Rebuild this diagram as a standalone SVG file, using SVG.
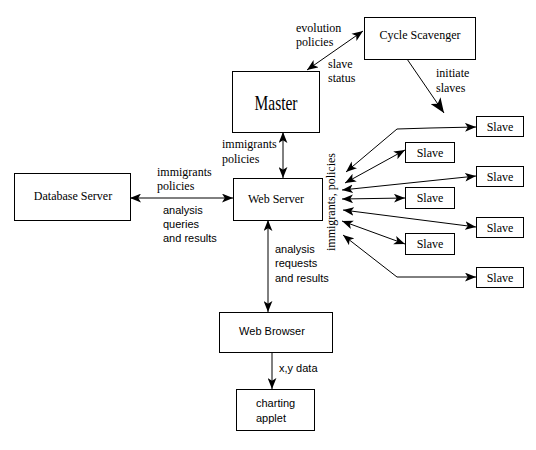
<svg xmlns="http://www.w3.org/2000/svg" width="536" height="450" viewBox="0 0 536 450">
<style>
.box{fill:#fff;stroke:#000;stroke-width:1}
.ln{fill:none;stroke:#000;stroke-width:1}
.bi{marker-start:url(#ah);marker-end:url(#ah)}
.one{marker-end:url(#ah)}
.s{font-family:"Liberation Serif","Times New Roman",serif;font-size:12px;fill:#000}
.ss{font-family:"Liberation Sans",Arial,sans-serif;font-size:11px;fill:#000}
</style>
<defs>
<marker id="ah" viewBox="0 0 10 8" refX="10" refY="4" markerWidth="11" markerHeight="9" markerUnits="userSpaceOnUse" orient="auto-start-reverse">
<path d="M0,0 L10,4 L0,8 L2.5,4 z" fill="#000"/>
</marker>
<marker id="ahl" viewBox="0 0 10 8" refX="10" refY="4" markerWidth="15" markerHeight="12" markerUnits="userSpaceOnUse" orient="auto">
<path d="M0,0 L10,4 L0,8 L2.5,4 z" fill="#000"/>
</marker>
</defs>
<rect width="536" height="450" fill="#fff"/>
<g id="connectors">
<line class="ln bi" x1="307" y1="70" x2="363" y2="31"/>
<line class="ln" x1="407" y1="59" x2="444" y2="113" marker-end="url(#ahl)"/>
<line class="ln bi" x1="283" y1="132" x2="283" y2="178"/>
<line class="ln bi" x1="130" y1="198" x2="233" y2="198"/>
<line class="ln bi" x1="268" y1="220" x2="268" y2="312"/>
<line class="ln one" x1="272" y1="352" x2="272" y2="389"/>
<polyline class="ln bi" points="346,172 397,129 430,128 476,127"/>
<line class="ln bi" x1="345" y1="183" x2="405" y2="150"/>
<line class="ln bi" x1="342" y1="190" x2="476" y2="176"/>
<line class="ln bi" x1="342" y1="199" x2="405" y2="198"/>
<line class="ln bi" x1="343" y1="210" x2="476" y2="227"/>
<line class="ln bi" x1="342" y1="221" x2="405" y2="244"/>
<polyline class="ln bi" points="343,235 397,277 476,277"/>
<text class="s" x="296" y="32">evolution</text>
<text class="s" x="296" y="46">policies</text>
<text class="s" x="328" y="68">slave</text>
<text class="s" x="328" y="82">status</text>
<text class="s" x="436" y="77">initiate</text>
<text class="s" x="436" y="92">slaves</text>
<text class="s" x="222" y="148">immigrants</text>
<text class="s" x="222" y="163">policies</text>
<text class="s" x="157" y="176">immigrants</text>
<text class="s" x="157" y="190">policies</text>
<text class="ss" x="163" y="214">analysis</text>
<text class="ss" x="163" y="228">queries</text>
<text class="ss" x="163" y="242">and results</text>
<text class="ss" x="275" y="253">analysis</text>
<text class="ss" x="275" y="267">requests</text>
<text class="ss" x="275" y="282">and results</text>
<text class="ss" x="279" y="372">x,y data</text>
<text class="s" transform="translate(335,202) rotate(-90)" text-anchor="middle">immigrants, policies</text>
</g>
<g id="cycle-scavenger">
<rect class="box" x="364.5" y="17.5" width="111" height="42"/>
<text class="s" x="420" y="39" text-anchor="middle">Cycle Scavenger</text>
</g>
<g id="master">
<rect class="box" x="232.5" y="71.5" width="87" height="61"/>
<text x="276" y="110" text-anchor="middle" font-family="Liberation Serif, Times New Roman, serif" font-size="22" textLength="43" lengthAdjust="spacingAndGlyphs">Master</text>
</g>
<g id="database-server">
<rect class="box" x="14.5" y="173.5" width="116" height="47"/>
<text class="s" x="73" y="200" text-anchor="middle">Database Server</text>
</g>
<g id="web-server">
<rect class="box" x="233.5" y="178.5" width="89" height="42"/>
<text class="s" x="276" y="203" text-anchor="middle">Web Server</text>
</g>
<g id="web-browser">
<rect class="box" x="219.5" y="312.5" width="113" height="40"/>
<text class="ss" x="272" y="335" text-anchor="middle">Web Browser</text>
</g>
<g id="charting-applet">
<rect class="box" x="236.5" y="389.5" width="78" height="41"/>
<text class="ss" x="256" y="407">charting</text>
<text class="ss" x="256" y="422">applet</text>
</g>
<g id="slave-1"><rect class="box" x="476.5" y="116.5" width="47" height="20"/><text class="s" x="500" y="131" text-anchor="middle">Slave</text></g>
<g id="slave-2"><rect class="box" x="405.5" y="142.5" width="49" height="20"/><text class="s" x="430" y="157" text-anchor="middle">Slave</text></g>
<g id="slave-3"><rect class="box" x="476.5" y="166.5" width="47" height="20"/><text class="s" x="500" y="181" text-anchor="middle">Slave</text></g>
<g id="slave-4"><rect class="box" x="405.5" y="187.5" width="49" height="21"/><text class="s" x="430" y="202" text-anchor="middle">Slave</text></g>
<g id="slave-5"><rect class="box" x="476.5" y="217.5" width="47" height="20"/><text class="s" x="500" y="232" text-anchor="middle">Slave</text></g>
<g id="slave-6"><rect class="box" x="405.5" y="233.5" width="49" height="21"/><text class="s" x="430" y="248" text-anchor="middle">Slave</text></g>
<g id="slave-7"><rect class="box" x="476.5" y="267.5" width="47" height="20"/><text class="s" x="500" y="282" text-anchor="middle">Slave</text></g>
</svg>
